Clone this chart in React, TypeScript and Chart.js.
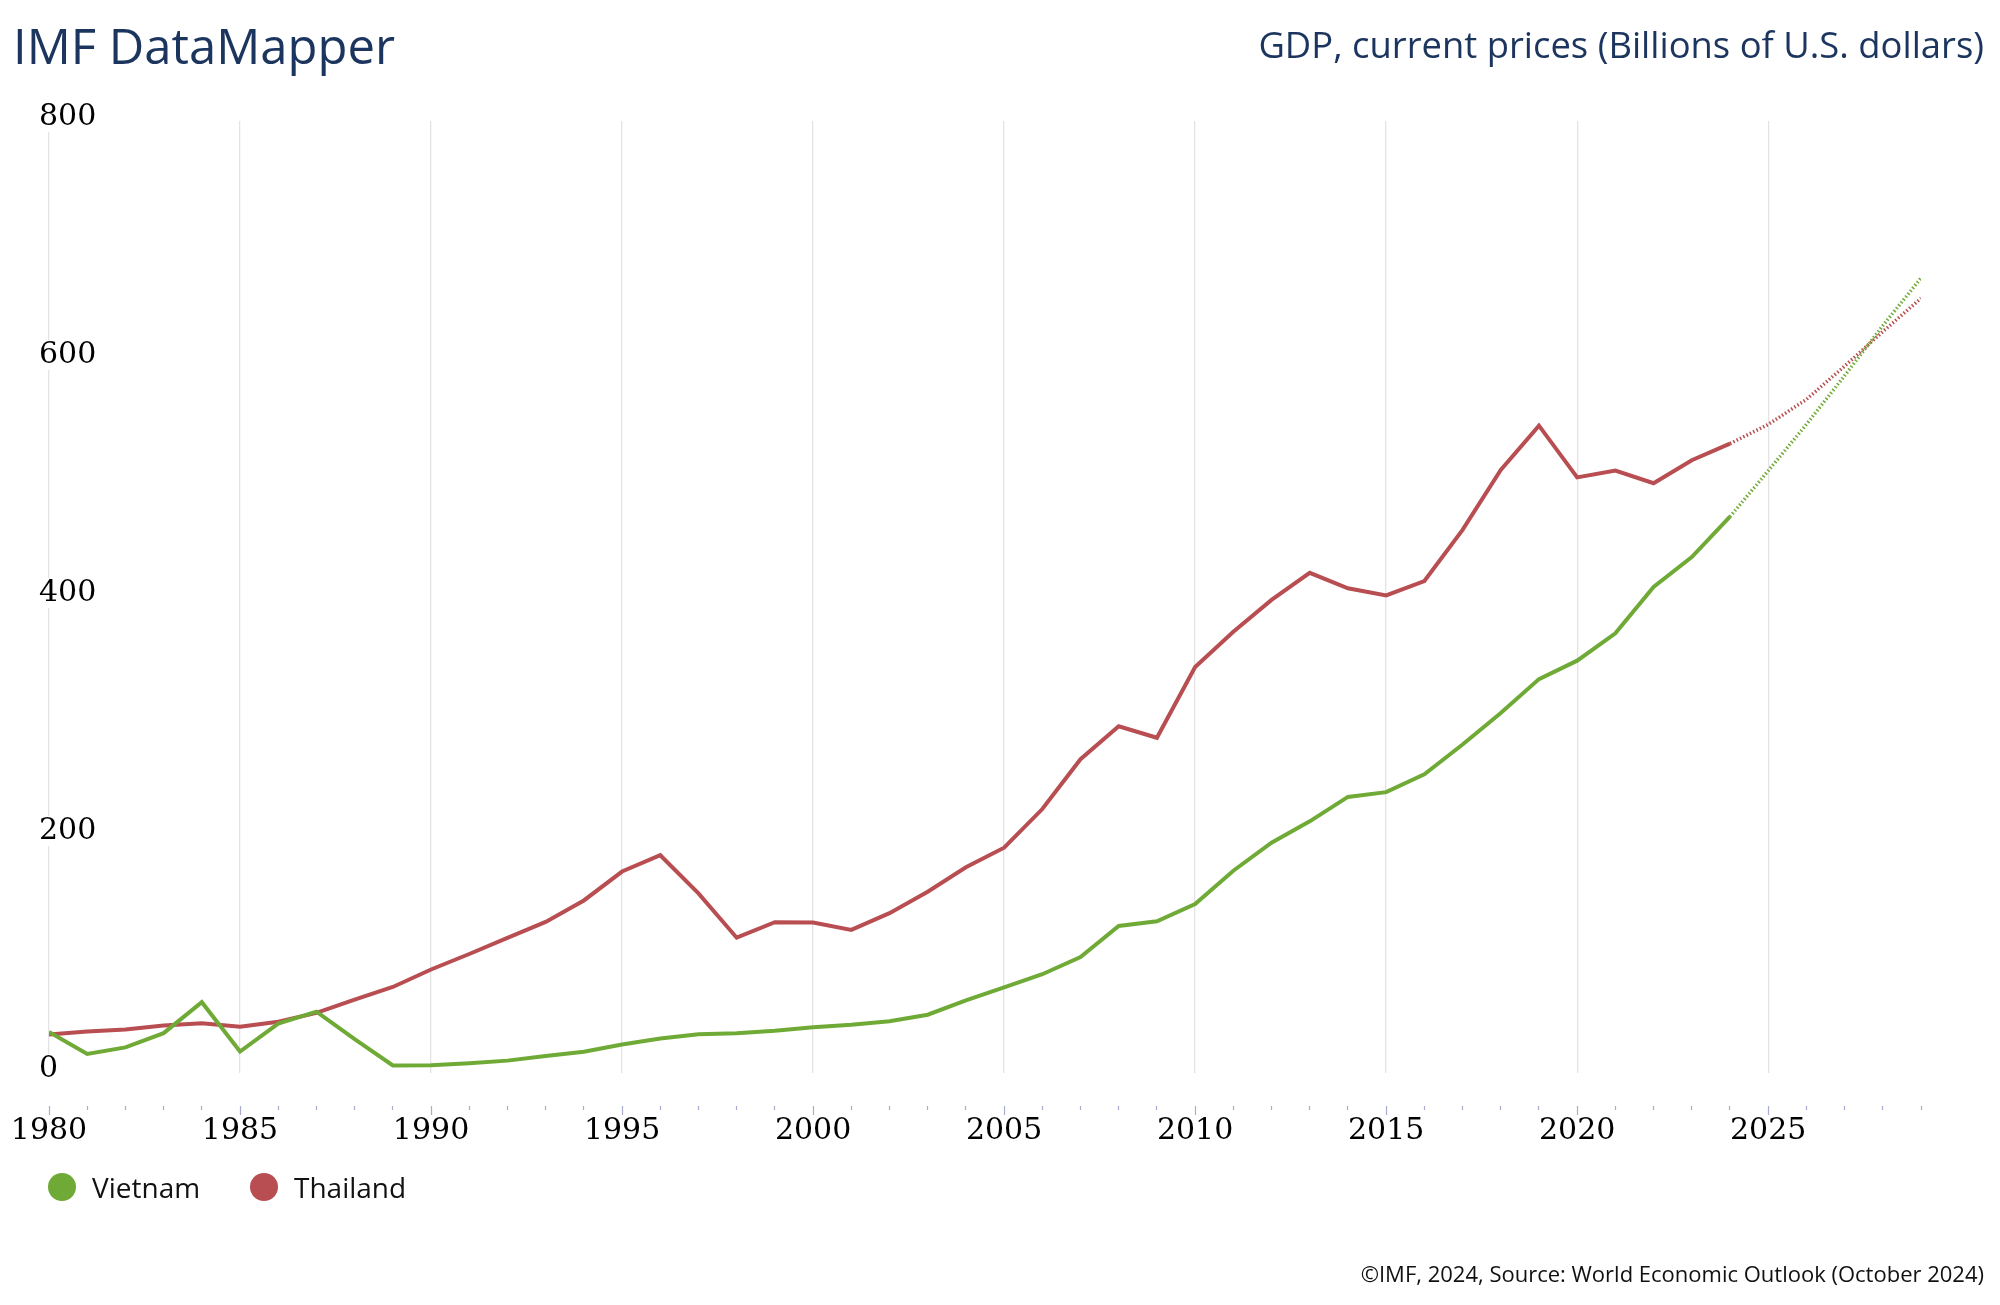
import React, { useEffect, useRef } from "react";
import { Chart, registerables } from "chart.js";

Chart.register(...registerables);

const years = [
  1980, 1981, 1982, 1983, 1984, 1985, 1986, 1987, 1988, 1989,
  1990, 1991, 1992, 1993, 1994, 1995, 1996, 1997, 1998, 1999,
  2000, 2001, 2002, 2003, 2004, 2005, 2006, 2007, 2008, 2009,
  2010, 2011, 2012, 2013, 2014, 2015, 2016, 2017, 2018, 2019,
  2020, 2021, 2022, 2023, 2024, 2025, 2026, 2027, 2028, 2029,
];

const vietnam = [
  34.5, 16, 21.5, 33.5, 59.5, 18, 41.5, 51.5, 28.5, 6.3,
  6.5, 8.1, 10.4, 14.3, 17.9, 24, 29, 32.5, 33.5, 35.5,
  38.5, 40.5, 43.5, 49, 61, 72, 83, 97.5, 123.5, 127.5,
  142, 170, 193.5, 211.5, 232, 236, 251, 276, 302.5, 331,
  346.5, 369.5, 408.5, 433.5, 467.5, 506, 545, 586, 628, 668,
];

const thailand = [
  32.3, 34.8, 36.6, 40, 41.8, 38.9, 43.1, 50.5, 61.7, 72.3,
  87, 100, 113.5, 127, 145, 169.3, 183, 150.9, 113.7, 126.7,
  126.4, 120.3, 134.3, 152.3, 172.9, 189.3, 221.8, 263.7, 291.4, 281.7,
  341.1, 370.8, 397.6, 420.3, 407.3, 401.3, 413.4, 456.4, 506.8, 544,
  500.5, 506.3, 495.6, 514.9, 528.9, 545, 566, 594, 623, 651,
];

const forecastStart = 2024;
const yMin = 0;
const yMax = 800;
const yStep = 200;
const xMin = 1980;
const xMax = 2029;
const xLabelEvery = 5;

const seriesNames = ["Vietnam", "Thailand"];
const seriesColors = ["#70aa36", "#b84e51"];

const NAVY = "#1c355e";
const GRID = "#e3e3e3";
const TICK = "#a9acd1";
const AXIS_FONT = "'DejaVu Serif', serif";

function toPoints(vals: number[]) {
  return years.map((yr, i) => ({ x: yr, y: vals[i] }));
}

export default function App() {
  const ref = useRef<HTMLCanvasElement>(null);

  useEffect(() => {
    const canvas = ref.current;
    if (!canvas) return;
    const seriesValues = [vietnam, thailand];
    const chart = new Chart(canvas, {
      type: "line",
      data: {
        datasets: seriesNames.map((name, k) => ({
          label: name,
          data: toPoints(seriesValues[k]),
          borderColor: seriesColors[k],
          backgroundColor: seriesColors[k],
          borderWidth: 4,
          pointRadius: 0,
          pointHoverRadius: 0,
          tension: 0,
          fill: false,
          xAxisID: "x",
          yAxisID: "y",
          segment: {
            borderDash: (ctx: any) =>
              ctx.p0.parsed.x >= forecastStart ? [1.5, 2.2] : undefined,
            borderWidth: (ctx: any) =>
              ctx.p0.parsed.x >= forecastStart ? 3.5 : undefined,
          },
        })),
      },
      options: {
        responsive: false,
        devicePixelRatio: 1,
        animation: false,
        layout: { padding: { left: 49, right: 79, top: 121, bottom: 139 } },
        plugins: {
          legend: { display: false },
          tooltip: { enabled: false },
          title: { display: false },
        },
        scales: {
          x: {
            type: "linear",
            position: "bottom",
            min: xMin,
            max: xMax,
            weight: 0,
            ticks: { display: false, stepSize: 1 },
            grid: {
              drawTicks: false,
              lineWidth: 1.3,
              color: (ctx: any) =>
                ctx.tick && ctx.tick.value % xLabelEvery === 0 ? GRID : "rgba(0,0,0,0)",
            },
            border: { display: false },
            afterFit: (s: any) => {
              s.height = 33;
            },
          },
          x2: {
            type: "linear",
            position: "bottom",
            min: xMin,
            max: xMax,
            weight: 1,
            ticks: {
              stepSize: 1,
              autoSkip: false,
              maxRotation: 0,
              minRotation: 0,
              padding: -2,
              color: "#000",
              font: { family: AXIS_FONT, size: 30, lineHeight: 1.2 },
              callback: (v: any) => (Number(v) % xLabelEvery === 0 ? String(v) : ""),
            },
            grid: {
              drawOnChartArea: false,
              drawTicks: true,
              tickLength: 9,
              tickColor: TICK,
              tickWidth: 1.2,
              tickBorderDash: (ctx: any) =>
                ctx.tick && ctx.tick.value % xLabelEvery === 0 ? [] : [4, 30],
            },
            border: { display: false },
            afterFit: (s: any) => {
              s.height = 60;
            },
          },
          y: {
            type: "linear",
            position: "left",
            min: yMin,
            max: yMax,
            ticks: {
              stepSize: yStep,
              mirror: true,
              padding: -10,
              labelOffset: -4,
              color: "#000",
              font: { family: AXIS_FONT, size: 30, lineHeight: 1 },
              showLabelBackdrop: true,
              backdropColor: "#ffffff",
              backdropPadding: 0,
              z: 1,
            },
            grid: { display: false },
            border: { display: false },
            afterFit: (s: any) => {
              s.width = 0;
            },
          },
        },
      } as any,
    });
    return () => chart.destroy();
  }, []);

  const font = "'Open Sans', 'Noto Sans', sans-serif";

  return (
    <div
      style={{
        position: "fixed",
        left: 0,
        top: 0,
        width: 2000,
        height: 1305,
        background: "#fff",
        overflow: "hidden",
        fontFamily: font,
      }}
    >
      <canvas
        ref={ref}
        width={2000}
        height={1305}
        style={{ position: "absolute", left: 0, top: 0, width: 2000, height: 1305 }}
      />
      <div
        style={{
          position: "absolute",
          left: 13,
          top: 21,
          fontSize: 49,
          lineHeight: "49px",
          color: NAVY,
          whiteSpace: "nowrap",
        }}
      >
        IMF DataMapper
      </div>
      <div
        style={{
          position: "absolute",
          right: 16,
          top: 26,
          fontSize: 36.4,
          lineHeight: "36px",
          color: NAVY,
          whiteSpace: "nowrap",
        }}
      >
        GDP, current prices (Billions of U.S. dollars)
      </div>
      {seriesNames.map((name, k) => (
        <div
          key={name}
          style={{
            position: "absolute",
            left: k === 0 ? 48 : 250,
            top: 1166,
            height: 42,
            display: "flex",
            alignItems: "center",
            whiteSpace: "nowrap",
          }}
        >
          <span
            style={{
              display: "inline-block",
              width: 28,
              height: 28,
              borderRadius: "50%",
              background: seriesColors[k],
              marginRight: 16,
            }}
          />
          <span style={{ fontSize: 28, lineHeight: "28px", color: "#111" }}>{name}</span>
        </div>
      ))}
      <div
        style={{
          position: "absolute",
          right: 16,
          top: 1262,
          fontSize: 22,
          lineHeight: "22px",
          color: "#111",
          whiteSpace: "nowrap",
        }}
      >
        ©IMF, 2024, Source: World Economic Outlook (October 2024)
      </div>
    </div>
  );
}
